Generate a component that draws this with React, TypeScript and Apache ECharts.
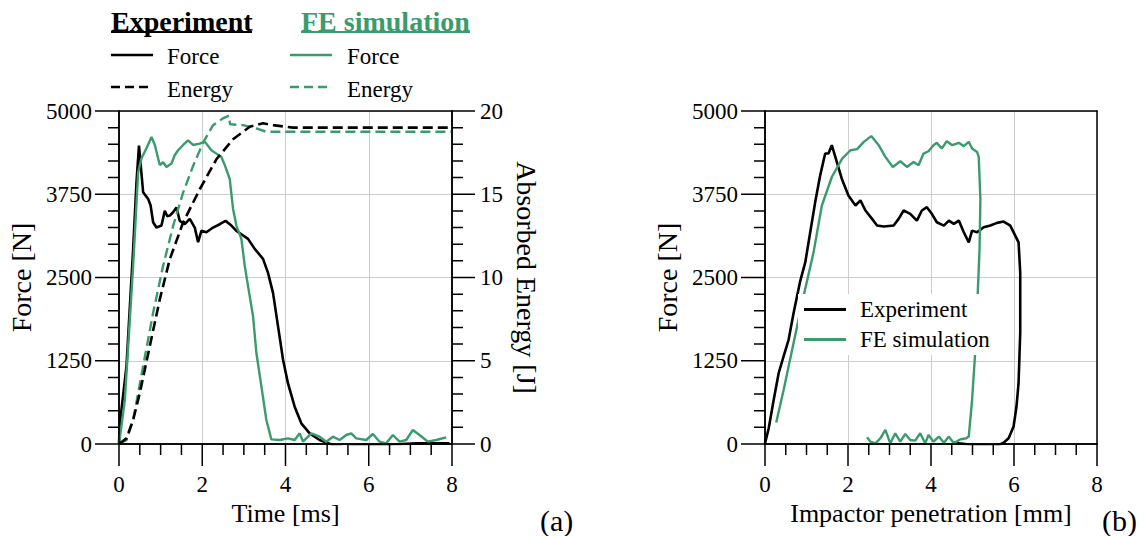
import React, { useEffect, useRef } from "react";
import * as echarts from "echarts";

// ---- Data ----
// (a) Force / Energy vs time
const expTime = [0, 0.02, 0.18, 0.34, 0.42, 0.48, 0.52, 0.58, 0.7, 0.76, 0.82, 0.9, 1.02, 1.1, 1.16, 1.22, 1.3, 1.38, 1.46, 1.58, 1.7, 1.82, 1.9, 1.98, 2.1, 2.26, 2.42, 2.56, 2.7, 2.82, 2.94, 3.1, 3.26, 3.46, 3.58, 3.7, 3.82, 3.94, 4.06, 4.22, 4.38, 4.58, 4.82, 5.14, 5.42, 5.78, 6.34, 7.14, 7.94];
const expForce = [0, 300, 1170, 2930, 3930, 4480, 4200, 3780, 3680, 3580, 3330, 3250, 3280, 3500, 3420, 3430, 3480, 3550, 3350, 3300, 3380, 3250, 3030, 3200, 3180, 3250, 3300, 3350, 3280, 3200, 3150, 3080, 2930, 2780, 2570, 2270, 1770, 1270, 910, 560, 310, 160, 60, -15, -50, -15, -15, 10, 10];

const feTime = [0, 0.14, 0.34, 0.46, 0.54, 0.66, 0.78, 0.86, 0.98, 1.06, 1.14, 1.26, 1.34, 1.42, 1.54, 1.66, 1.78, 1.94, 2.06, 2.22, 2.34, 2.46, 2.54, 2.66, 2.74, 2.82, 2.94, 3.02, 3.1, 3.22, 3.3, 3.42, 3.54, 3.66, 3.86, 4.06, 4.22, 4.34, 4.42, 4.62, 4.82, 4.98, 5.14, 5.3, 5.46, 5.58, 5.7, 5.94, 6.1, 6.26, 6.42, 6.58, 6.74, 6.9, 7.06, 7.22, 7.42, 7.62, 7.86];
const feForce = [0, 660, 2680, 4080, 4290, 4440, 4610, 4490, 4190, 4230, 4160, 4210, 4340, 4410, 4490, 4560, 4490, 4510, 4540, 4410, 4360, 4310, 4190, 3980, 3530, 3280, 3080, 2680, 2370, 1920, 1370, 870, 360, 70, 60, 85, 60, 160, 35, 160, 110, 35, 110, 60, 135, 160, 85, 60, 150, 35, 10, 135, 35, 60, 210, 135, 35, 60, 100];

const expEnergyTime = [0, 0.18, 0.34, 0.5, 0.74, 0.98, 1.22, 1.54, 1.94, 2.34, 2.74, 3.14, 3.46, 3.7, 4.18, 8];
const expEnergy = [0, 0.34, 1.45, 3.06, 5.88, 8.69, 11.1, 13.3, 15.3, 17.1, 18.3, 19.05, 19.26, 19.15, 19.0, 19.0];

const feEnergyTime = [0, 0.18, 0.34, 0.58, 0.82, 1.06, 1.3, 1.54, 1.78, 2.02, 2.26, 2.5, 2.64, 2.67, 2.98, 3.3, 3.54, 8];
const feEnergy = [0, 0.24, 1.45, 4.67, 7.89, 10.7, 13.1, 15.1, 16.7, 18.1, 19.15, 19.56, 19.72, 19.2, 19.15, 18.95, 18.75, 18.75];

// (b) Force vs impactor penetration
const expPen = [0, 0.09, 0.21, 0.33, 0.45, 0.57, 0.69, 0.85, 0.97, 1.09, 1.21, 1.33, 1.45, 1.53, 1.61, 1.73, 1.85, 2.01, 2.18, 2.3, 2.42, 2.58, 2.7, 2.86, 3.1, 3.22, 3.34, 3.5, 3.66, 3.78, 3.9, 4.02, 4.14, 4.31, 4.43, 4.55, 4.67, 4.79, 4.91, 4.99, 5.11, 5.27, 5.43, 5.59, 5.75, 5.91, 6.03, 6.11, 6.15, 6.15, 6.11, 6.06, 5.99, 5.87, 5.75, 5.55, 5.27, 4.87, 4.55];
const expPenForce = [10, 236, 664, 1066, 1318, 1569, 1972, 2450, 2726, 3179, 3632, 4034, 4361, 4361, 4487, 4235, 3984, 3732, 3581, 3657, 3506, 3380, 3280, 3265, 3280, 3380, 3506, 3456, 3355, 3506, 3556, 3456, 3330, 3280, 3355, 3305, 3355, 3179, 3028, 3204, 3179, 3255, 3280, 3320, 3340, 3280, 3129, 3028, 2575, 1670, 915, 563, 262, 86, 20, -40, -15, -5, 20];

const fePen = [0.27, 0.45, 0.69, 0.93, 1.17, 1.37, 1.61, 1.86, 2.06, 2.22, 2.38, 2.56, 2.74, 2.9, 3.08, 3.26, 3.42, 3.58, 3.7, 3.82, 3.94, 4.06, 4.14, 4.26, 4.38, 4.51, 4.67, 4.79, 4.91, 4.99, 5.11, 5.15, 5.19, 5.17, 5.12, 5.07, 4.99, 4.91, 4.85, 4.71, 4.55, 4.43, 4.31, 4.19, 4.06, 3.94, 3.86, 3.74, 3.62, 3.5, 3.38, 3.26, 3.14, 3.02, 2.9, 2.78, 2.66, 2.54, 2.46];
const fePenForce = [322, 815, 1519, 2223, 2877, 3581, 4009, 4286, 4411, 4427, 4537, 4623, 4487, 4311, 4160, 4245, 4160, 4235, 4185, 4361, 4396, 4487, 4522, 4437, 4547, 4487, 4522, 4472, 4537, 4437, 4386, 4311, 3682, 2928, 2173, 1419, 664, 111, 86, 70, 10, 111, 20, 111, 35, 136, 10, 161, 50, 60, 151, 35, 161, 10, 211, 86, 10, 35, 100];

// ---- Axis settings ----
const timeTicks = { min: 0, max: 8, interval: 2 };
const forceTicks = { min: 0, max: 5000, interval: 1250 };
const energyTicks = { min: 0, max: 20, interval: 5 };
const timeMinorPerMajor = 4;
const forceMinorPerMajor = 5;
const energyMinorPerMajor = 5;

const GREEN = "#3a9b6c";
const BLACK = "#000000";
const FONT = "'Liberation Serif', 'Times New Roman', serif";

const zip = (xs: number[], ys: number[]) => xs.map((x, i) => [x, ys[i]]);

type Ticks = { min: number; max: number; interval: number };

function tickValues(t: Ticks, perMajor: number) {
  const out: { v: number; major: boolean }[] = [];
  const step = t.interval / perMajor;
  const n = Math.round((t.max - t.min) / step);
  for (let i = 0; i <= n; i++) out.push({ v: t.min + i * step, major: i % perMajor === 0 });
  return out;
}

const gridLineStyle = { color: "#cdcdcd", width: 1 };
const plainLabel = (v: number) => String(v);
const AXIS_W = 1.5;

function mainAxis(extra: any, labelMargin: number) {
  return {
    type: "value",
    axisLine: { show: true, onZero: false, lineStyle: { color: "#000", width: AXIS_W } },
    axisTick: { show: false },
    minorTick: { show: false },
    splitLine: { show: true, lineStyle: gridLineStyle },
    minorSplitLine: { show: false },
    axisLabel: { show: true, color: "#000", fontSize: 23, fontFamily: FONT, margin: labelMargin, formatter: plainLabel },
    nameLocation: "middle",
    ...extra,
  };
}

function borderAxis(extra: any) {
  return {
    type: "value",
    axisLine: { show: true, onZero: false, lineStyle: { color: "#000", width: AXIS_W } },
    axisTick: { show: false },
    axisLabel: { show: false },
    splitLine: { show: false },
    ...extra,
  };
}

export default function App() {
  const ref = useRef<HTMLDivElement>(null);

  useEffect(() => {
    if (!ref.current) return;
    const chart = echarts.init(ref.current, null, { renderer: "svg" });

    const legendText = (text: string, x: number, y: number, color: string, bold = false, size = 23) => ({
      type: "text",
      x,
      y,
      style: {
        text,
        fill: color,
        fontFamily: FONT,
        fontSize: size,
        fontWeight: bold ? "bold" : "normal",
        verticalAlign: "middle",
        align: "left",
      },
    });
    const gLine = (x1: number, y1: number, x2: number, y2: number, color: string, w: number, dashed = false) => ({
      type: "line",
      shape: { x1, y1, x2, y2 },
      style: { stroke: color, lineWidth: w, lineDash: dashed ? [9, 5] : null },
      z: 10,
    });
    const comb = (points: number[][]) => ({
      type: "polyline",
      shape: { points },
      style: { stroke: BLACK, lineWidth: AXIS_W, fill: null, lineJoin: "miter" },
      z: 100,
      silent: true,
    });

    const xName = (name: string) => ({
      name,
      nameGap: 56,
      nameTextStyle: { color: "#000", fontFamily: FONT, fontSize: 26 },
    });

    const staticGraphics = [
      legendText("Experiment", 111, 21, BLACK, true, 28),
      gLine(111, 32, 252, 32, BLACK, 2),
      legendText("FE simulation", 301, 21, GREEN, true, 28),
      gLine(301, 32, 470, 32, GREEN, 2),
      gLine(111, 55, 153, 55, BLACK, 2.6),
      legendText("Force", 167, 56, BLACK),
      gLine(111, 87, 153, 87, BLACK, 2.6, true),
      legendText("Energy", 167, 89, BLACK),
      gLine(290, 55, 332, 55, GREEN, 2.6),
      legendText("Force", 347, 56, BLACK),
      gLine(290, 87, 332, 87, GREEN, 2.6, true),
      legendText("Energy", 347, 89, BLACK),
      legendText("(a)", 540, 520, BLACK, false, 30),
      legendText("(b)", 1102, 520, BLACK, false, 30),
    ];

    const option: any = {
      animation: false,
      backgroundColor: "#fff",
      grid: [
        { left: 119, top: 111, width: 333, height: 333 },
        { left: 765, top: 111, width: 332, height: 333 },
      ],
      xAxis: [
        mainAxis({ gridIndex: 0, position: "bottom", ...timeTicks, ...xName("Time [ms]") }, 29),
        borderAxis({ gridIndex: 0, position: "top", ...timeTicks }),
        mainAxis({ gridIndex: 1, position: "bottom", ...timeTicks, ...xName("Impactor penetration [mm]") }, 29),
        borderAxis({ gridIndex: 1, position: "top", ...timeTicks }),
      ],
      yAxis: [
        mainAxis(
          {
            gridIndex: 0,
            position: "left",
            ...forceTicks,
            name: "Force [N]",
            nameRotate: 90,
            nameGap: 84,
            nameTextStyle: { color: "#000", fontFamily: FONT, fontSize: 28 },
          },
          27
        ),
        mainAxis(
          {
            gridIndex: 0,
            position: "right",
            ...energyTicks,
            splitLine: { show: false },
            name: "Absorbed Energy [J]",
            nameRotate: -90,
            nameGap: 60,
            nameTextStyle: { color: "#000", fontFamily: FONT, fontSize: 28 },
          },
          28
        ),
        mainAxis(
          {
            gridIndex: 1,
            position: "left",
            ...forceTicks,
            name: "Force [N]",
            nameRotate: 90,
            nameGap: 84,
            nameTextStyle: { color: "#000", fontFamily: FONT, fontSize: 28 },
          },
          27
        ),
        borderAxis({ gridIndex: 1, position: "right", ...forceTicks }),
      ],
      legend: {
        data: ["Experiment", "FE simulation"],
        orient: "vertical",
        left: 798,
        top: 294,
        icon: "rect",
        itemWidth: 42,
        itemHeight: 3,
        itemGap: 7,
        padding: [4, 6, 4, 6],
        backgroundColor: "#fff",
        textStyle: { color: "#000", fontSize: 23, fontFamily: FONT, padding: [0, 0, 0, 9] },
      },
      series: [
        {
          name: "Exp Force",
          type: "line",
          xAxisIndex: 0,
          yAxisIndex: 0,
          symbol: "none",
          data: zip(expTime, expForce),
          lineStyle: { color: BLACK, width: 2.6 },
          itemStyle: { color: BLACK },
        },
        {
          name: "FE Force",
          type: "line",
          xAxisIndex: 0,
          yAxisIndex: 0,
          symbol: "none",
          data: zip(feTime, feForce),
          lineStyle: { color: GREEN, width: 2.4 },
          itemStyle: { color: GREEN },
        },
        {
          name: "FE Energy",
          type: "line",
          xAxisIndex: 0,
          yAxisIndex: 1,
          symbol: "none",
          data: zip(feEnergyTime, feEnergy),
          lineStyle: { color: GREEN, width: 2.4, type: [10, 5] },
          itemStyle: { color: GREEN },
        },
        {
          name: "Exp Energy",
          type: "line",
          xAxisIndex: 0,
          yAxisIndex: 1,
          symbol: "none",
          data: zip(expEnergyTime, expEnergy),
          lineStyle: { color: BLACK, width: 2.6, type: [10, 5] },
          itemStyle: { color: BLACK },
        },
        {
          name: "Experiment",
          type: "line",
          xAxisIndex: 2,
          yAxisIndex: 2,
          symbol: "none",
          data: zip(expPen, expPenForce),
          lineStyle: { color: BLACK, width: 2.6 },
          itemStyle: { color: BLACK },
        },
        {
          name: "FE simulation",
          type: "line",
          xAxisIndex: 2,
          yAxisIndex: 2,
          symbol: "none",
          data: zip(fePen, fePenForce),
          lineStyle: { color: GREEN, width: 2.4 },
          itemStyle: { color: GREEN },
        },
      ],
      graphic: staticGraphics,
    };

    chart.setOption(option);

    // Outward tick marks as comb polylines, positioned through the axes' own scales
    const tickGraphics: any[] = [];
    const xComb = (xi: number, yi: number) => {
      const pts: number[][] = [];
      tickValues(timeTicks, timeMinorPerMajor).forEach(({ v, major }) => {
        const p = chart.convertToPixel({ xAxisIndex: xi, yAxisIndex: yi }, [v, forceTicks.min]) as number[];
        pts.push([p[0], p[1]], [p[0], p[1] + (major ? 22 : 11)], [p[0], p[1]]);
      });
      tickGraphics.push(comb(pts));
    };
    const yComb = (xi: number, yi: number, t: Ticks, per: number, xAnchor: number, dir: number, majorLen: number) => {
      const pts: number[][] = [];
      tickValues(t, per).forEach(({ v, major }) => {
        const p = chart.convertToPixel({ xAxisIndex: xi, yAxisIndex: yi }, [xAnchor, v]) as number[];
        pts.push([p[0], p[1]], [p[0] + dir * (major ? majorLen : 11), p[1]], [p[0], p[1]]);
      });
      tickGraphics.push(comb(pts));
    };
    xComb(0, 0);
    yComb(0, 0, forceTicks, forceMinorPerMajor, timeTicks.min, -1, 24);
    yComb(0, 1, energyTicks, energyMinorPerMajor, timeTicks.max, 1, 23);
    xComb(2, 2);
    yComb(2, 2, forceTicks, forceMinorPerMajor, timeTicks.min, -1, 24);

    chart.setOption({ graphic: [...staticGraphics, ...tickGraphics] });

    return () => chart.dispose();
  }, []);

  return (
    <div
      ref={ref}
      style={{ position: "absolute", left: 0, top: 0, width: 1144, height: 536, background: "#fff" }}
    />
  );
}
